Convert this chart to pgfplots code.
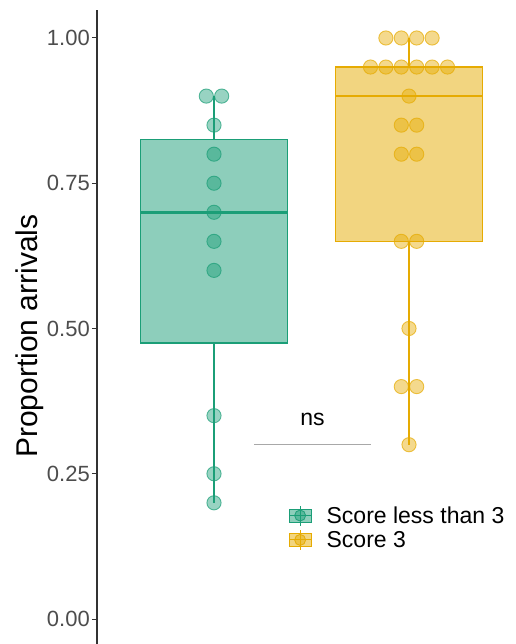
\documentclass[border=0pt]{standalone}
\usepackage{fontspec}
\setmainfont{Liberation Sans}
\usepackage{pgfplots}
\pgfplotsset{compat=1.18}
\usepgfplotslibrary{statistics}
\definecolor{gline}{HTML}{1B9E77}
\definecolor{gfill}{HTML}{8DCEBB}
\definecolor{yline}{HTML}{E6AB02}
\definecolor{yfill}{HTML}{F2D580}
\definecolor{axgray}{HTML}{333333}
\definecolor{tickgray}{HTML}{4D4D4D}
\definecolor{brgray}{HTML}{A8A8A8}
\begin{document}
\begin{tikzpicture}
\useasboundingbox (0,0) rectangle (515pt,644pt);
\begin{axis}[
 scale only axis, width=418pt, height=644pt,
 at={(97pt,0pt)}, anchor=south west,
 xmin=0.4, xmax=2.5436, ymin=-0.04303, ymax=1.0654,
 axis line style={draw=none},
 xtick=\empty,
 ytick={0,0.25,0.5,0.75,1},
 ytick pos=left,
 tick align=outside,
 major tick length=5pt,
 tick style={draw=axgray, line width=1pt},
 /pgf/number format/assume math mode=true,
 yticklabel style={font=\fontsize{22}{26}\selectfont, text=tickgray, inner sep=2pt,
   /pgf/number format/fixed, /pgf/number format/fixed zerofill, /pgf/number format/precision=2},
 ylabel={Proportion arrivals},
 every axis y label/.style={at={(rel axis cs:-0.16,0.478)}, rotate=90, anchor=center, font=\fontsize{30}{36}\selectfont},
 clip=false,
 boxplot/draw direction=y,
 boxplot/whisker extend=0,
 legend style={draw=none, fill=none, at={(rel axis cs:0.458,0.217)}, anchor=north west,
   font=\fontsize{23}{27}\selectfont, inner sep=0pt, row sep=2.5pt,
   /tikz/every odd column/.append style={column sep=13pt}},
 legend cell align=left,
]
% boxes
\addplot[forget plot, draw=gline, fill=gfill, line width=1.2pt,
  boxplot prepared={draw position=1, box extend=0.75, median=0.7, upper quartile=0.825,
  lower quartile=0.475, upper whisker=0.9, lower whisker=0.2,
  every median/.style={line width=2.6pt}}] coordinates {};
\addplot[forget plot, draw=yline, fill=yfill, line width=1.2pt,
  boxplot prepared={draw position=2, box extend=0.75, median=0.9, upper quartile=0.95,
  lower quartile=0.65, upper whisker=1.0, lower whisker=0.3,
  every median/.style={line width=2.6pt}}] coordinates {};
% dots
\addplot[forget plot, only marks, mark=*, mark size=7.1pt,
  mark options={draw=gline, fill=gline, fill opacity=0.45, draw opacity=0.7, line width=0.9pt}]
  coordinates {(0.9605,0.9) (1.0395,0.9) (1,0.85) (1,0.8) (1,0.75) (1,0.7) (1,0.65) (1,0.6) (1,0.35) (1,0.25) (1,0.2)};
\addplot[forget plot, only marks, mark=*, mark size=7.1pt,
  mark options={draw=yline, fill=yline, fill opacity=0.45, draw opacity=0.7, line width=0.9pt}]
  coordinates {(1.8815,1) (1.9605,1) (2.0395,1) (2.1185,1)
  (1.8025,0.95) (1.8815,0.95) (1.9605,0.95) (2.0395,0.95) (2.1185,0.95) (2.1975,0.95)
  (2,0.9) (1.9605,0.85) (2.0395,0.85) (1.9605,0.8) (2.0395,0.8)
  (1.9605,0.65) (2.0395,0.65) (2,0.5) (1.9605,0.4) (2.0395,0.4) (2,0.3)};
% significance bracket
\addplot[forget plot, draw=brgray, line width=1.1pt] coordinates {(1.205,0.3) (1.805,0.3)};
\node[anchor=base, font=\fontsize{23}{27}\selectfont] at (axis cs:1.505,0.333) {ns};
% y axis line
\draw[axgray, line width=1.4pt] (axis cs:0.4,-0.1) -- (axis cs:0.4,1.049);
% legend
\addlegendimage{legend image code/.code={
  \fill[gfill] (0pt,-6.5pt) rectangle (22pt,6.5pt);
  \draw[gline, line width=1pt] (0pt,-6.5pt) rectangle (22pt,6.5pt);
  \draw[gline, line width=1pt] (11pt,-10pt) -- (11pt,10pt);
  \draw[gline, line width=1pt] (0pt,0pt) -- (22pt,0pt);
  \fill[gline, fill opacity=0.45] (11pt,0pt) circle (5.5pt);
  \draw[gline, draw opacity=0.7, line width=0.8pt] (11pt,0pt) circle (5.5pt);}}
\addlegendentry{Score less than 3}
\addlegendimage{legend image code/.code={
  \fill[yfill] (0pt,-6.5pt) rectangle (22pt,6.5pt);
  \draw[yline, line width=1pt] (0pt,-6.5pt) rectangle (22pt,6.5pt);
  \draw[yline, line width=1pt] (11pt,-10pt) -- (11pt,10pt);
  \draw[yline, line width=1pt] (0pt,0pt) -- (22pt,0pt);
  \fill[yline, fill opacity=0.45] (11pt,0pt) circle (5.5pt);
  \draw[yline, draw opacity=0.7, line width=0.8pt] (11pt,0pt) circle (5.5pt);}}
\addlegendentry{Score 3}
\end{axis}
\end{tikzpicture}
\end{document}
